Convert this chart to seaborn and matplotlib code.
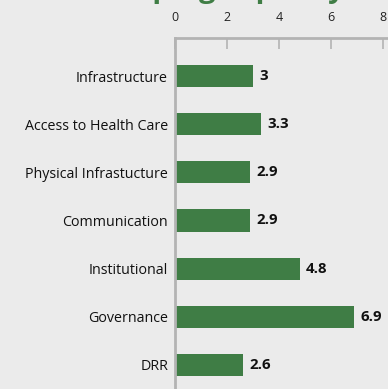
import matplotlib
matplotlib.use("Agg")
import matplotlib.pyplot as plt
import seaborn as sns
import pandas as pd

categories = ["Infrastructure", "Access to Health Care", "Physical Infrastucture",
              "Communication", "Institutional", "Governance", "DRR"]
values = [3, 3.3, 2.9, 2.9, 4.8, 6.9, 2.6]
xticks = [0, 2, 4, 6, 8]

BG = "#ebebeb"
GREEN = "#3f7d45"
GRID = "#b3b3b3"

sns.set_theme(style="white")
plt.rcParams["font.family"] = ["Open Sans", "DejaVu Sans"]

df = pd.DataFrame({"category": categories, "value": values})

fig = plt.figure(figsize=(3.88, 3.89), dpi=100, facecolor=BG)
ax = fig.add_axes([175 / 388, 0.0, 213 / 388, 1 - 38 / 389])
ax.set_facecolor(BG)

sns.barplot(data=df, x="value", y="category", orient="h", color=GREEN,
            saturation=1, width=0.46, linewidth=0, ax=ax)

ax.set_xlim(0, 8.2)
ax.set_ylim(6.5, -0.79)
ax.xaxis.tick_top()
ax.set_xticks(xticks)
ax.set_xticklabels([str(t) for t in xticks], fontsize=9, color="#222222")
ax.tick_params(axis="x", direction="in", length=8, width=1.2, color=GRID, pad=10)
ax.tick_params(axis="y", length=0, pad=5, labelsize=10.3, labelcolor="#111111")
ax.set_xlabel("")
ax.set_ylabel("")

for side in ["right", "bottom"]:
    ax.spines[side].set_visible(False)
for side in ["top", "left"]:
    ax.spines[side].set_color(GRID)
    ax.spines[side].set_linewidth(2)

for i, v in enumerate(values):
    ax.text(v + 0.25, i, f"{v:g}", va="center", ha="left", fontsize=10.8,
            fontweight="bold", color="#111111")

fig.text(0.454, 1 + 2.5 / 389, "Lack of coping capacity", ha="center", va="baseline",
         fontsize=21, fontweight="bold", color=GREEN)

fig.savefig("out.png", dpi=100, facecolor=BG)
